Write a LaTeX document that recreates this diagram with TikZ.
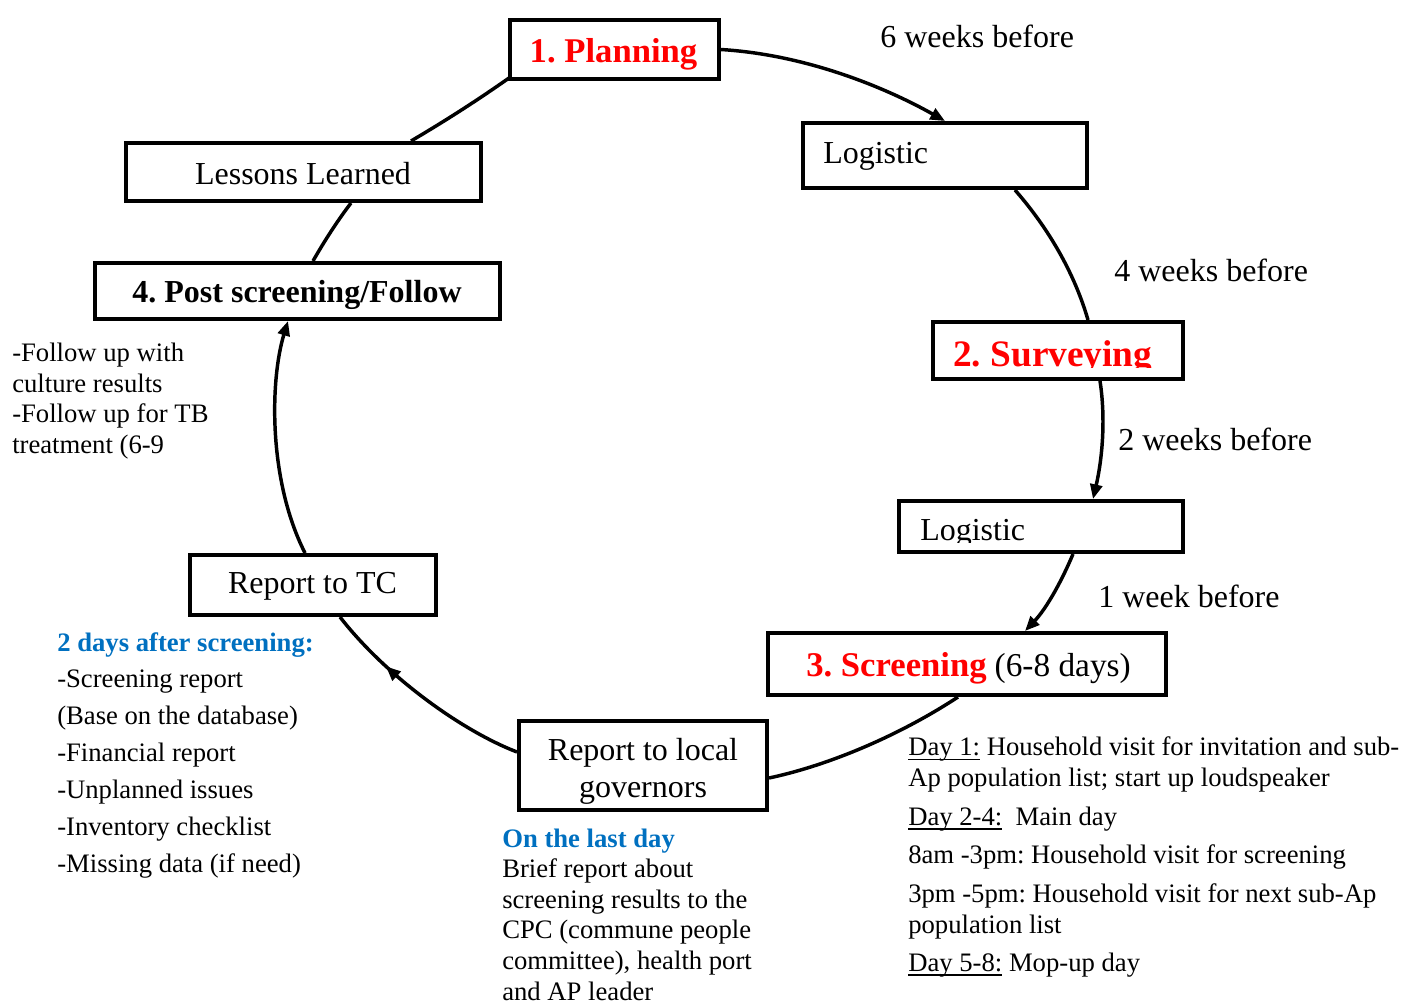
\documentclass[tikz,border=0pt]{standalone}
\usepackage{fontspec}
\setmainfont{Liberation Serif}
\usetikzlibrary{arrows.meta,decorations.markings,calc}
\pgfdeclarelayer{background}
\pgfsetlayers{background,main}
\definecolor{stepred}{RGB}{255,0,0}
\definecolor{noteblue}{RGB}{0,112,192}
% underline that sits just below the baseline
\newcommand{\dayul}[1]{\setbox0\hbox{#1}\rlap{\vrule height -2pt depth 3.4pt width \wd0}\copy0\relax}

\begin{document}
\frenchspacing
\begin{tikzpicture}[x=0.75pt,y=-0.75pt,
  box/.style={draw, line width=3pt, fill=white, inner sep=0pt},
  boxwh/.style 2 args={minimum width=#1*0.75pt, minimum height=#2*0.75pt},
  link/.style={line width=2.6pt},
  arrowed/.style={-{Triangle[length=11pt,width=9pt]}},
  midarrow/.style={postaction={decorate},
    decoration={markings, mark=at position #1 with {\arrow{Triangle[length=11pt,width=9pt]}}}},
  lab/.style={font=\fontsize{24pt}{28pt}\selectfont, inner sep=0pt},
  body/.style={font=\fontsize{20pt}{22.9pt}\selectfont, inner sep=0pt, align=left},
  head/.style={font=\fontsize{20pt}{22.9pt}\selectfont\bfseries, text=noteblue, inner sep=0pt}
]
\useasboundingbox (0,0) rectangle (1401,1004);

% ---- boxes ----
\node[box, boxwh={209}{59}] (plan)    at (614.5,49.5) {};
\node[box, boxwh={284}{65}] (log1)    at (945,155.5) {};
\node[box, boxwh={355}{58}] (lessons) at (303.5,172) {};
\node[box, boxwh={405}{56}] (post)    at (297.5,291) {};
\node[box, boxwh={250}{57}] (surv)    at (1058,350.5) {};
\node[box, boxwh={284}{51}] (log2)    at (1041,526.5) {};
\node[box, boxwh={398}{62}] (scr)     at (967,664) {};
\node[box, boxwh={248}{89}] (local)   at (643,765.5) {};
\node[box, boxwh={246}{60}] (tc)      at (313,585) {};

% ---- box labels ----
\node[lab, font=\fontsize{26pt}{30pt}\selectfont\bfseries, text=stepred, anchor=base] (planT) at (613.5,62) {1. Planning};
\node[lab, anchor=base west] (log1T) at (823,163) {Logistic};
\node[lab, anchor=base] (lessonsT) at (303,184) {Lessons Learned};
\node[lab, font=\fontsize{24pt}{28pt}\selectfont\bfseries, anchor=base] (postT) at (297,302) {4. Post screening/Follow};
\begin{scope}
  \clip (934,323) rectangle (1182,367);
  \node[lab, font=\fontsize{28pt}{32pt}\selectfont\bfseries, text=stepred, anchor=base west] (survT) at (953,366) {2. Surveying};
\end{scope}
\begin{scope}
  \clip (900,502) rectangle (1182,542);
  \node[lab, anchor=base west] (log2T) at (920,540) {Logistic};
\end{scope}
\node[lab, anchor=base west] (scrT) at (806,676)
  {{\fontsize{26pt}{30pt}\selectfont\bfseries\color{stepred}3. Screening} {\fontsize{25pt}{30pt}\selectfont(6-8 days)}};
\node[lab, anchor=base] (localT1) at (643,760) {Report to local};
\node[lab, anchor=base] (localT2) at (643,797) {governors};
\node[lab, anchor=base] (tcT) at (312.5,593) {Report to TC};

% ---- timing labels ----
\node[lab, anchor=base west] (w6) at (880,47) {6 weeks before};
\node[lab, anchor=base west] (w4) at (1114,281) {4 weeks before};
\node[lab, anchor=base west] (w2) at (1118,450) {2 weeks before};
\node[lab, anchor=base west] (w1) at (1098,607) {1 week before};

% ---- notes (multi-line nodes are placed by the baseline of their last line) ----
\node[body, anchor=base west] (followN) at (12,453.5)
  {-Follow up with\\culture results\\-Follow up for TB\\treatment (6-9};
\node[head, anchor=base west] (afterH) at (57,651) {2 days after screening:};
\node[body, font=\fontsize{20pt}{27.7pt}\selectfont, anchor=base west] (afterN) at (57,872.5)
  {-Screening report\\(Base on the database)\\-Financial report\\-Unplanned issues\\-Inventory checklist\\-Missing data (if need)};
\node[head, anchor=base west] (lastH) at (502,847) {On the last day};
\node[body, anchor=base west] (lastN) at (502,1000)
  {Brief report about\\screening results to the\\CPC (commune people\\committee), health port\\and AP leader};
\node[body, font=\fontsize{20pt}{23.25pt}\selectfont, anchor=base west] (daysN) at (908,971)
  {\dayul{Day 1:} Household visit for invitation and sub-\\
   Ap population list; start up loudspeaker\\[5.7pt]
   \dayul{Day 2-4:}\ \ Main day\\[5.2pt]
   8am -3pm: Household visit for screening\\[5.7pt]
   3pm -5pm: Household visit for next sub-Ap\\
   population list\\[5.2pt]
   \dayul{Day 5-8:} Mop-up day};

% ---- connectors ----
\begin{pgfonlayer}{background}
\draw[link, arrowed] (plan.east) .. controls (810,55) and (890,90) .. (log1.north);
\draw[link] (log1.south -| 1015,0) .. controls (1050,230) and (1075,275) .. (surv.north -| 1088,0);
\draw[link, arrowed] (surv.south -| 1100,0) .. controls (1106,420) and (1102,460) .. (log2.north -| 1093,0);
\draw[link, arrowed] (log2.south -| 1073,0) .. controls (1060,585) and (1045,610) .. (scr.north -| 1025,0);
\draw[link] (scr.south -| 958,0) .. controls (900,735) and (830,765) .. (local.east |- 0,778);
\draw[link, midarrow=0.7] (local.west |- 0,752) .. controls (460,730) and (385,675) .. (tc.south -| 340,0);
\draw[link, arrowed] (tc.north -| 305,0) .. controls (268,480) and (270,380) .. (post.south -| 288,0);
\draw[link] (post.north -| 313,0) .. controls (325,240) and (338,220) .. (lessons.south -| 351,0);
\draw[link, arrowed] (lessons.north -| 411,0) .. controls (445,121) and (478,100) .. ($(plan.west |- 0,66)+(18,0)$);
\end{pgfonlayer}
\end{tikzpicture}
\end{document}
